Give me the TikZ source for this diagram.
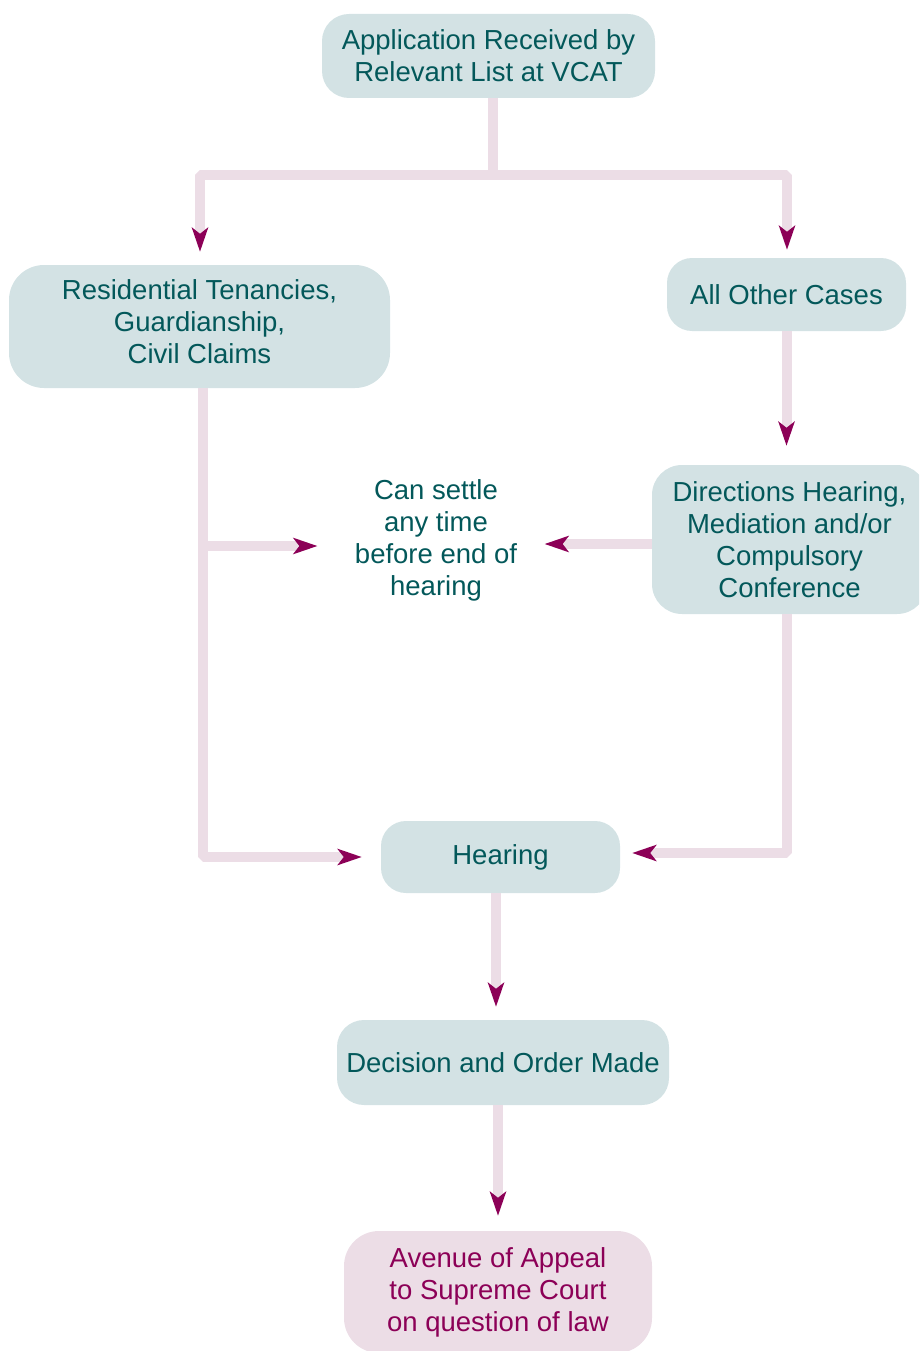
\documentclass[tikz,border=0pt]{standalone}
\usepackage{fontspec}
\setmainfont{Liberation Sans}
\usepackage{tikz}
\usetikzlibrary{arrows.meta}

\definecolor{boxteal}{HTML}{D3E2E4}
\definecolor{textteal}{HTML}{03585A}
\definecolor{linepink}{HTML}{ECDDE6}
\definecolor{tipmag}{HTML}{8C0057}

\begin{document}
\begin{tikzpicture}[x=1pt, y=-1pt,
    box/.style={rounded corners=27pt, fill=boxteal, text=textteal, align=center,
        inner sep=0pt, font=\fontsize{27.5}{32}\selectfont},
    pinkline/.style={draw=linepink, line width=10pt, line join=bevel},
    flow/.style={pinkline, -{Stealth[length=24pt, width=16pt, inset=6pt, color=tipmag]}}]
    \clip (0, 0) rectangle (919, 1351);
    \node [box, minimum width=333, minimum height=84] (0) at (488.5, 56) {Application Received by\\Relevant List at VCAT};
    \node [box, minimum width=381, minimum height=123, rounded corners=35pt] (1) at (199.5, 326.5) {Residential Tenancies,\\Guardianship,\\Civil Claims\rule[-10pt]{0pt}{0pt}};
    \node [box, minimum width=239, minimum height=73, rounded corners=25pt] (2) at (786.5, 294.5) {All Other Cases};
    \node [box, minimum width=275, minimum height=149, rounded corners=30pt] (3) at (789.5, 539.5) {Directions Hearing,\\Mediation and/or\\Compulsory\\Conference};
    \node [align=center, text=textteal, font=\fontsize{27.5}{32}\selectfont] (settle) at (436, 540) {Can settle\\any time\\before end of\\hearing};
    \node [box, minimum width=239, minimum height=72, rounded corners=25pt] (4) at (500.5, 857) {Hearing};
    \node [box, minimum width=332, minimum height=85] (5) at (503, 1062.5) {Decision and Order Made};
    \node [box, minimum width=308, minimum height=122, rounded corners=35pt, fill=linepink, text=tipmag] (6) at (498, 1292) {Avenue of Appeal\\to Supreme Court\\on question of law};
    % split after application
    \coordinate (c0) at (493, 175);
    \draw [pinkline] ([xshift=4.5pt]0.south) -- (c0);
    \draw [flow, shorten >=13pt] (c0) -| ([xshift=0.5pt]1.north);
    \draw [flow, shorten >=8pt] (c0) -| ([xshift=0.5pt]2.north);
    \draw [flow, shorten >=19pt] (2.south) -- (2.south |- 3.north);
    % residential tenancies etc.
    \coordinate (c1) at (203, 546);
    \draw [flow, shorten >=19pt] ([xshift=3.5pt]1.south) |- (4.west);
    \draw [flow, shorten >=34pt] (c1) -- (c1 -| settle.west);
    % directions hearing
    \draw [flow, shorten >=24pt] ([yshift=-4.5pt]3.west) -- ([yshift=-4.5pt]3.west -| settle.east);
    \draw [flow, shorten >=12pt] ([xshift=-2.5pt]3.south) |- ([yshift=4pt]4.east);
    % decision and appeal
    \draw [flow, shorten >=13pt] ([xshift=-4.5pt]4.south) -- ([xshift=-4.5pt]4.south |- 5.north);
    \draw [flow, shorten >=15pt] ([xshift=-5pt]5.south) -- ([xshift=-5pt]5.south |- 6.north);
\end{tikzpicture}
\end{document}
